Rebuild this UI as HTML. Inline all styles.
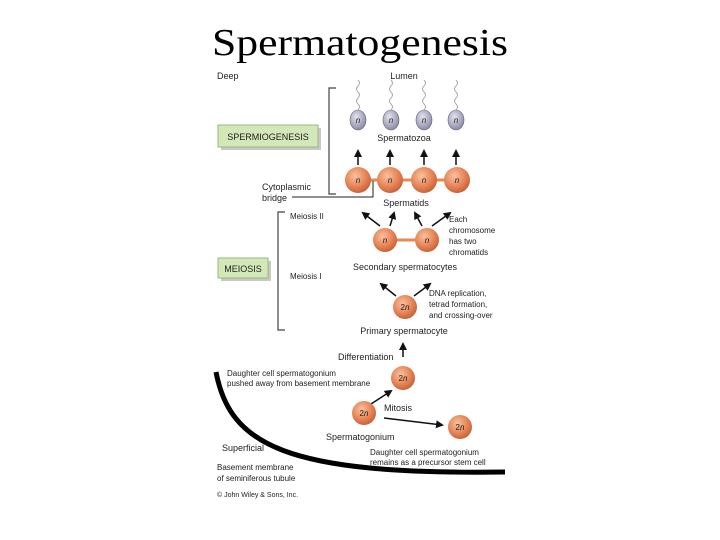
<!DOCTYPE html>
<html><head><style>
html,body{margin:0;padding:0;background:#fff;}
svg{display:block}
text{font-family:"Liberation Sans",sans-serif;fill:#222}
</style></head><body>
<svg width="720" height="540" viewBox="0 0 720 540" xmlns="http://www.w3.org/2000/svg">
<defs>
<radialGradient id="c" cx="40%" cy="35%" r="65%"><stop offset="0" stop-color="#f7c2a0"/><stop offset="0.6" stop-color="#e8875a"/><stop offset="1" stop-color="#c9643a"/></radialGradient>
<radialGradient id="g" cx="40%" cy="35%" r="65%"><stop offset="0" stop-color="#e4e4f0"/><stop offset="1" stop-color="#8c8ca8"/></radialGradient>
<marker id="a" markerWidth="8" markerHeight="8" refX="6" refY="4" orient="auto" markerUnits="userSpaceOnUse"><path d="M0,0 L8,4 L0,8 Z" fill="#111"/></marker>
</defs>
<text x="212" y="55" textLength="296" lengthAdjust="spacingAndGlyphs" style="font-family:'Liberation Serif',serif;font-size:38px;fill:#000">Spermatogenesis</text>

<text x="217" y="79" font-size="9">Deep</text>
<text x="404" y="79" font-size="9" text-anchor="middle">Lumen</text>

<path d="M336,88 H329 V194 H336" fill="none" stroke="#444" stroke-width="1.2"/>
<rect x="221" y="128" width="100" height="22" fill="#c8c8c8"/>
<rect x="218" y="125" width="100" height="22" fill="#d3e8b8" stroke="#9ab87a" stroke-width="1"/>
<text x="268" y="140" font-size="9" text-anchor="middle">SPERMIOGENESIS</text>

<g fill="none" stroke="#aaa" stroke-width="1">
<path d="M358,110 q3,-3 0,-6 q-3,-3 0,-6 q3,-3 0,-6 q-3,-3 0,-6 q3,-3 0,-6"/>
<path d="M391,110 q3,-3 0,-6 q-3,-3 0,-6 q3,-3 0,-6 q-3,-3 0,-6 q3,-3 0,-6"/>
<path d="M424,110 q3,-3 0,-6 q-3,-3 0,-6 q3,-3 0,-6 q-3,-3 0,-6 q3,-3 0,-6"/>
<path d="M456,110 q3,-3 0,-6 q-3,-3 0,-6 q3,-3 0,-6 q-3,-3 0,-6 q3,-3 0,-6"/>
</g>
<g>
<ellipse cx="358" cy="120" rx="8" ry="10" fill="url(#g)" stroke="#667" stroke-width=".6"/>
<ellipse cx="391" cy="120" rx="8" ry="10" fill="url(#g)" stroke="#667" stroke-width=".6"/>
<ellipse cx="424" cy="120" rx="8" ry="10" fill="url(#g)" stroke="#667" stroke-width=".6"/>
<ellipse cx="456" cy="120" rx="8" ry="10" fill="url(#g)" stroke="#667" stroke-width=".6"/>
</g>
<g font-size="8" font-style="italic" text-anchor="middle">
<text x="358" y="123">n</text><text x="391" y="123">n</text><text x="424" y="123">n</text><text x="456" y="123">n</text>
</g>
<text x="404" y="141" font-size="9" text-anchor="middle">Spermatozoa</text>

<g stroke="#111" stroke-width="1.5" marker-end="url(#a)">
<line x1="358" y1="165" x2="358" y2="151"/><line x1="390" y1="165" x2="390" y2="151"/>
<line x1="424" y1="165" x2="424" y2="151"/><line x1="456" y1="165" x2="456" y2="151"/>
</g>
<line x1="358" y1="180" x2="457" y2="180" stroke="#e8875a" stroke-width="3"/>
<g fill="url(#c)">
<circle cx="358" cy="180" r="13"/><circle cx="390" cy="180" r="13"/><circle cx="424" cy="180" r="13"/><circle cx="457" cy="180" r="13"/>
</g>
<g font-size="8" font-style="italic" text-anchor="middle">
<text x="358" y="183">n</text><text x="390" y="183">n</text><text x="424" y="183">n</text><text x="457" y="183">n</text>
</g>
<text x="262" y="190" font-size="9">Cytoplasmic</text>
<text x="262" y="201" font-size="9">bridge</text>
<path d="M292,197 H373 V181" fill="none" stroke="#222" stroke-width="1"/>
<text x="406" y="206" font-size="9" text-anchor="middle">Spermatids</text>

<path d="M285,212 H278 V330 H285" fill="none" stroke="#444" stroke-width="1.2"/>
<text x="290" y="219" font-size="8">Meiosis II</text>
<text x="290" y="279" font-size="8">Meiosis I</text>
<rect x="221" y="261" width="50" height="20" fill="#c8c8c8"/>
<rect x="218" y="258" width="50" height="20" fill="#d3e8b8" stroke="#9ab87a" stroke-width="1"/>
<text x="243" y="272" font-size="9" text-anchor="middle">MEIOSIS</text>

<g stroke="#111" stroke-width="1.5" marker-end="url(#a)">
<line x1="380" y1="226" x2="363" y2="213"/><line x1="390" y1="226" x2="394" y2="213"/>
<line x1="422" y1="226" x2="415" y2="213"/><line x1="432" y1="226" x2="450" y2="213"/>
<line x1="396" y1="296" x2="381" y2="284"/><line x1="414" y1="296" x2="430" y2="284"/>
<line x1="403" y1="357" x2="403" y2="344"/>
<line x1="371" y1="404" x2="391" y2="391"/>
<line x1="384" y1="418" x2="442" y2="425"/>
</g>
<line x1="385" y1="240" x2="427" y2="240" stroke="#e8875a" stroke-width="3"/>
<circle cx="385" cy="240" r="12" fill="url(#c)"/><circle cx="427" cy="240" r="12" fill="url(#c)"/>
<g font-size="8" font-style="italic" text-anchor="middle"><text x="385" y="243">n</text><text x="427" y="243">n</text></g>
<g font-size="8"><text x="449" y="222">Each</text><text x="449" y="233">chromosome</text><text x="449" y="244">has two</text><text x="449" y="255">chromatids</text></g>
<text x="405" y="270" font-size="9" text-anchor="middle">Secondary spermatocytes</text>

<circle cx="405" cy="307" r="12" fill="url(#c)"/>
<text x="405" y="310" font-size="8" text-anchor="middle">2<tspan font-style="italic">n</tspan></text>
<g font-size="8"><text x="429" y="296">DNA replication,</text><text x="429" y="307">tetrad formation,</text><text x="429" y="318">and crossing-over</text></g>
<text x="404" y="334" font-size="9" text-anchor="middle">Primary spermatocyte</text>
<text x="338" y="360" font-size="9">Differentiation</text>

<circle cx="403" cy="378" r="12" fill="url(#c)"/>
<text x="403" y="381" font-size="8" text-anchor="middle">2<tspan font-style="italic">n</tspan></text>
<g font-size="8"><text x="227" y="376">Daughter cell spermatogonium</text><text x="227" y="386">pushed away from basement membrane</text></g>
<circle cx="364" cy="413" r="12" fill="url(#c)"/>
<text x="364" y="416" font-size="8" text-anchor="middle">2<tspan font-style="italic">n</tspan></text>
<text x="384" y="411" font-size="9">Mitosis</text>
<circle cx="460" cy="427" r="12" fill="url(#c)"/>
<text x="460" y="430" font-size="8" text-anchor="middle">2<tspan font-style="italic">n</tspan></text>
<text x="326" y="440" font-size="9">Spermatogonium</text>
<text x="222" y="451" font-size="9">Superficial</text>
<g font-size="8"><text x="370" y="455">Daughter cell spermatogonium</text><text x="370" y="465">remains as a precursor stem cell</text></g>
<g font-size="8"><text x="217" y="470">Basement membrane</text><text x="217" y="481">of seminiferous tubule</text></g>
<path d="M216,372 C230,445 285,475 505,472" fill="none" stroke="#000" stroke-width="5"/>
<text x="217" y="497" font-size="7">© John Wiley &amp; Sons, Inc.</text>
</svg>
</body></html>
